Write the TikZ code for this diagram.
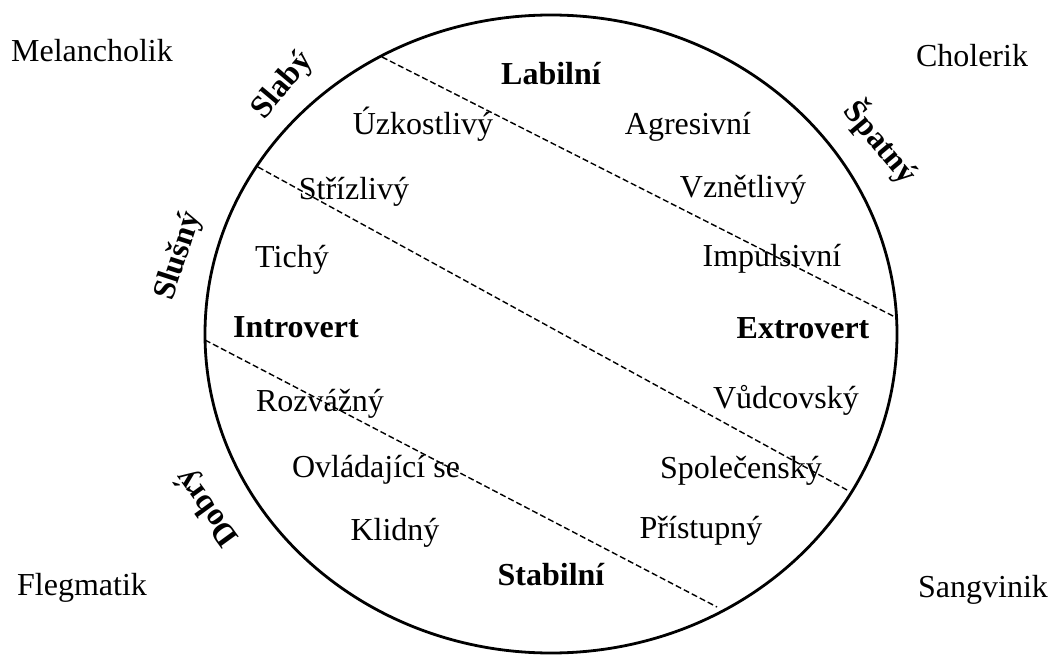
\documentclass[tikz,border=0pt]{standalone}
\usepackage{fontspec}
\setmainfont{Liberation Serif}
\begin{document}
\begin{tikzpicture}[x=1pt,y=-1pt,
  txt/.style={font=\fontsize{32}{38}\selectfont, inner sep=0pt, anchor=base},
  btxt/.style={font=\fontsize{32}{38}\selectfont\bfseries, inner sep=0pt, anchor=base},
  rtxt/.style={font=\fontsize{32}{38}\selectfont\bfseries, inner sep=0pt, anchor=center},
  divider/.style={dash pattern=on 6pt off 3pt, line width=1.4pt},
  rim/.style={line width=2.8pt}]
\useasboundingbox (0,0) rectangle (1050,655);
% circle
\draw[rim] (551,334) ellipse [x radius=346, y radius=319];
% dividing lines
\coordinate (a1) at (382,57);  \coordinate (a2) at (895,317);
\coordinate (b1) at (258,167); \coordinate (b2) at (847,490);
\coordinate (c1) at (205,340); \coordinate (c2) at (717,607);
\draw[divider] (a1) -- (a2);
\draw[divider] (b1) -- (b2);
\draw[divider] (c1) -- (c2);
% corner labels
\node[txt] (mel) at (92,62) {Melancholik};
\node[txt] (cho) at (972,67) {Cholerik};
\node[txt] (fle) at (82,595) {Flegmatik};
\node[txt] (san) at (983,597) {Sangvinik};
% rim labels
\node[rtxt, rotate=50] (slaby) at (283,86) {Slabý};
\node[rtxt, rotate=72] (slusny) at (179,256) {Slušný};
\node[rtxt, rotate=-50] (spatny) at (881,142) {Špatný};
\node[rtxt, rotate=126] (dobry) at (208,507) {Dobrý};
% axis labels
\node[btxt] (lab) at (551,85) {Labilní};
\node[btxt] (sta) at (551,585) {Stabilní};
\node[btxt] (intro) at (296,337) {Introvert};
\node[btxt] (extro) at (803,338) {Extrovert};
% traits
\node[txt] (uzk) at (423,135) {Úzkostlivý};
\node[txt] (agr) at (688,135) {Agresivní};
\node[txt] (str) at (354,200) {Střízlivý};
\node[txt] (vzn) at (743,198) {Vznětlivý};
\node[txt] (tic) at (292,268) {Tichý};
\node[txt] (imp) at (772,267) {Impulsivní};
\node[txt] (roz) at (320,411) {Rozvážný};
\node[txt] (vud) at (786,408) {Vůdcovský};
\node[txt] (ovl) at (376,477) {Ovládající se};
\node[txt] (spo) at (741,478) {Společenský};
\node[txt] (kli) at (395,540) {Klidný};
\node[txt] (pri) at (701,538) {Přístupný};
\end{tikzpicture}
\end{document}
